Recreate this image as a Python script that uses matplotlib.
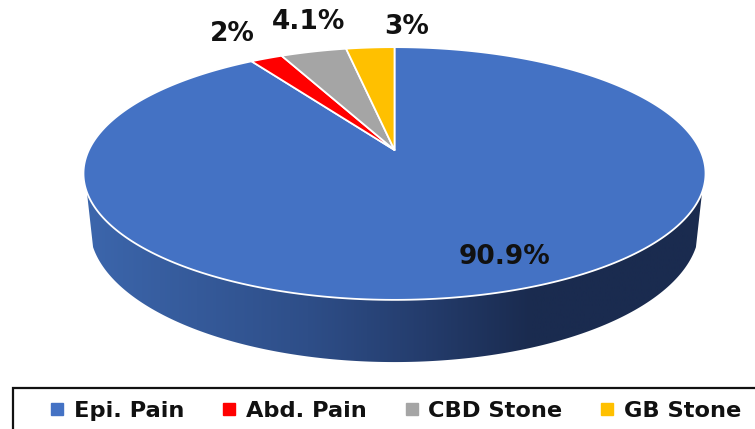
import numpy as np
import matplotlib

matplotlib.use("Agg")
from matplotlib import pyplot as plt
from matplotlib.colors import LinearSegmentedColormap
from matplotlib.lines import Line2D
from matplotlib.patches import Polygon, Rectangle

categories = ["Epi. Pain", "Abd. Pain", "CBD Stone", "GB Stone"]
values = [90.9, 2, 4.1, 3]
pct_labels = ["90.9%", "2%", "4.1%", "3%"]
colors = ["#4472C4", "#FF0000", "#A5A5A5", "#FFC000"]

# pie tilt, worked out from the rim in the picture
CX, CY = 394.5, 150.0
RADIUS_X, RADIUS_Y = 305.6, 122.0
TILT = 0.186
DROP = 52.0
BOTTOM_SCALE_X, BOTTOM_SCALE_Y = 0.98, 1.068


def project(theta, scale_x=1.0, scale_y=1.0, drop=0.0):
    # theta is clockwise from 12 o'clock, pixel coords come back
    u, v = np.sin(theta), np.cos(theta)
    w = 1 + TILT * v
    return CX + scale_x * RADIUS_X * u / w, CY + drop - scale_y * RADIUS_Y * v / w


fig = plt.figure(figsize=(7.55, 4.29), dpi=100)
ax = fig.add_axes([0, 0, 1, 1])

# side wall, gradient clipped to the outline
side_top = np.linspace(np.radians(109), np.radians(251), 200)
top_x, top_y = project(side_top)
low_x, low_y = project(side_top[::-1], BOTTOM_SCALE_X, BOTTOM_SCALE_Y, DROP)
side_cmap = LinearSegmentedColormap.from_list(
    "side",
    [(0.0, "#3C66AC"), (0.36, "#2E4E88"), (0.55, "#243C6C"), (0.72, "#1A2B4F"), (1.0, "#1A2B4F")],
)
gradient = ax.imshow(np.linspace(0, 1, 256)[None, :], extent=(85, 705, 429, 0), cmap=side_cmap,
                     aspect="auto", zorder=1)
ax.set_xlim(0, 755)
ax.set_ylim(429, 0)
ax.axis("off")
side = Polygon(np.column_stack([np.r_[top_x, low_x], np.r_[top_y, low_y]]), closed=True,
               facecolor="none", edgecolor="none")
ax.add_patch(side)
gradient.set_clip_path(side)

# top face slices, clockwise from 12 o'clock
edges = np.cumsum([0] + values) / sum(values) * 2 * np.pi
for start, end, color in zip(edges[:-1], edges[1:], colors):
    theta = np.linspace(start, end, max(int((end - start) * 60), 8))
    x, y = project(theta)
    ax.fill(np.r_[CX, x], np.r_[CY, y], facecolor=color, edgecolor="white", linewidth=1.3,
            joinstyle="round", zorder=2)

label_xy = [(504, 257), (232, 34), (309, 22), (407, 27)]
for text, (x, y) in zip(pct_labels, label_xy):
    ax.text(x, y, text, ha="center", va="center", fontsize=19, fontweight="bold",
            family="DejaVu Sans", color="#111111", zorder=3)

# legend box runs off the right and bottom of the picture
ax.add_patch(Rectangle((12.5, 388), 780, 70, facecolor="white", edgecolor="#111111",
                       linewidth=1.6, zorder=3))
handles = [Line2D([], [], linestyle="none", marker="s", markersize=8.5, color=c) for c in colors]
legend = ax.legend(handles, categories, ncol=4, frameon=False, loc="center left",
                   bbox_to_anchor=(47, 411), bbox_transform=ax.transData, handlelength=0.9,
                   handletextpad=0.3, columnspacing=1.54, borderpad=0, borderaxespad=0,
                   prop={"family": "DejaVu Sans", "weight": "bold", "size": 16.2},
                   labelcolor="#111111")
legend.set_zorder(4)

fig.savefig("out.png", dpi=100)
